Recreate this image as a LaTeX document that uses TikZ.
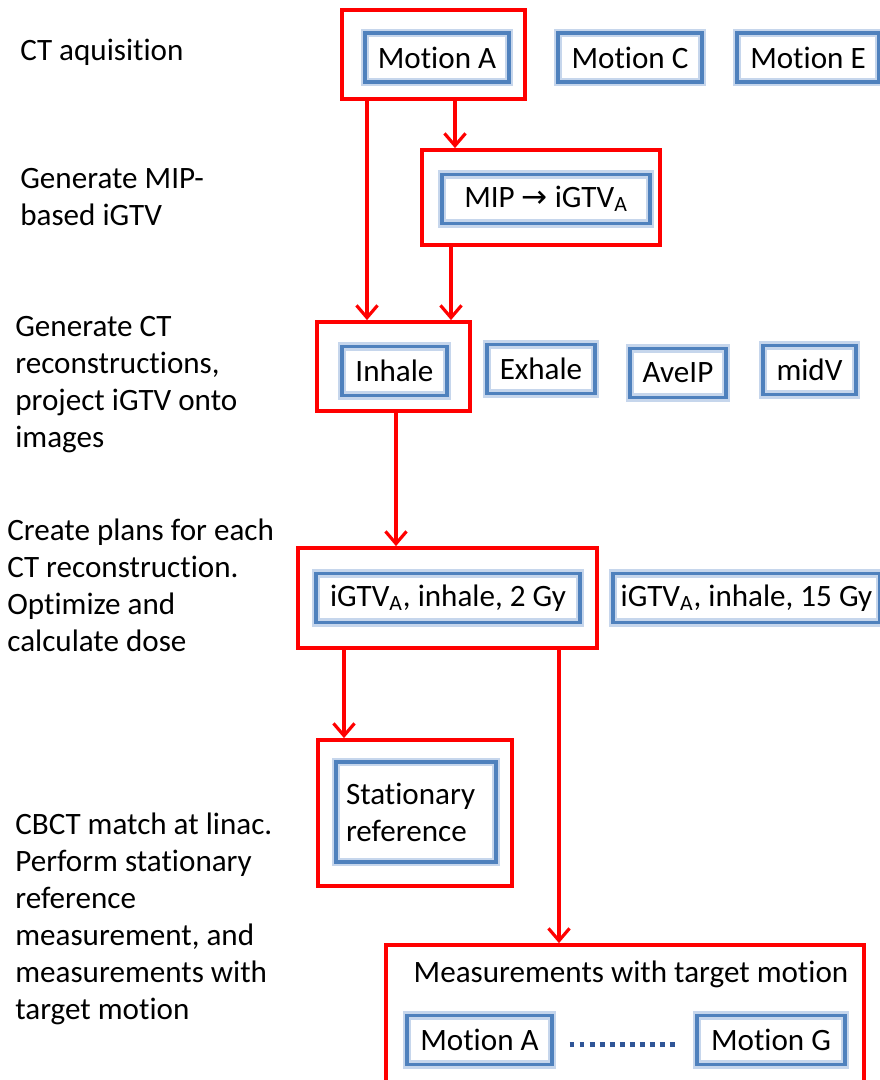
\documentclass[tikz,border=0pt]{standalone}
\usepackage{fontspec}
\setmainfont{Carlito}[Ligatures=NoCommon]
\newfontfamily\arrowfont{DejaVu Sans}
\usepackage{tikz}
\usetikzlibrary{arrows.meta}
\usetikzlibrary{calc}
\definecolor{boxblue}{RGB}{79,129,189}
\definecolor{glowblue}{RGB}{198,214,236}
\definecolor{dotblue}{RGB}{47,85,151}
\newcommand{\flowfont}{\fontsize{17.7}{21}\selectfont}
\tikzset{
	redbox/.style={draw=red, line width=2.2pt, inner sep=0pt},
	bluebox/.style={draw=boxblue, line width=2pt, preaction={draw=glowblue, line width=4.6pt}, minimum height=0.98cm, inner sep=0pt, font=\flowfont},
	flow/.style={draw=red, line width=1.8pt, -{Straight Barb[length=7pt,width=12pt]}},
	steplabel/.style={anchor=base west, align=left, inner sep=0pt, font=\flowfont},
	dotline/.style={draw=dotblue, line width=2.8pt, dash pattern=on 2.8pt off 2.9pt}
}

\begin{document}
\begin{tikzpicture}[x=0.02cm, y=-0.02cm]
		\clip (0,0) rectangle (880,1080);
		\node[steplabel] (lbla) at (20,60) {CT aquisition};
		\node[steplabel] (lblb) at (20,225) {Generate MIP-\\based iGTV};
		\node[steplabel] (lblc) at (15,447) {Generate CT\\reconstructions,\\project iGTV onto\\images};
		\node[steplabel] (lbld) at (7,651) {Create plans for each\\CT reconstruction.\\Optimize and\\calculate dose};
		\node[steplabel] (lble) at (15,1019) {CBCT match at linac.\\Perform stationary\\reference\\measurement, and\\measurements with\\target motion};

		\node[redbox, minimum width=3.66cm, minimum height=1.78cm] (ctred) at (433.5,54.5) {};
		\node[bluebox, minimum width=2.88cm] (motA) at (437,57.5) {Motion A};
		\node[bluebox, minimum width=2.88cm] (motC) at (630,57.5) {Motion C};
		\node[bluebox, minimum width=2.84cm] (motE) at (808,57.5) {Motion E};

		\node[redbox, minimum width=4.76cm, minimum height=1.90cm] (mipred) at (541,197.5) {};
		\node[bluebox, minimum width=4.16cm] (mip) at (546,199) {MIP {\arrowfont →} iGTV\textsubscript{A}};

		\node[redbox, minimum width=3.06cm, minimum height=1.78cm] (inred) at (393.5,366.5) {};
		\node[bluebox, minimum width=2.10cm] (inhale) at (394.5,371) {Inhale};
		\node[bluebox, minimum width=2.16cm] (exhale) at (541,369) {Exhale};
		\node[bluebox, minimum width=1.92cm] (aveip) at (678,373) {AveIP};
		\node[bluebox, minimum width=1.86cm] (midv) at (809.5,370) {midV};

		\node[redbox, minimum width=5.98cm, minimum height=2.0cm] (planred) at (447.5,598) {};
		\node[bluebox, minimum width=5.28cm] (plantwo) at (448,598) {iGTV\textsubscript{A}, inhale, 2 Gy};
		\node[bluebox, minimum width=5.34cm] (planfif) at (746.5,598) {iGTV\textsubscript{A}, inhale, 15 Gy};

		\node[redbox, minimum width=3.88cm, minimum height=2.92cm] (statred) at (415,813) {};
		\node[bluebox, minimum width=3.20cm, minimum height=2.0cm, align=left, text width=2.8cm] (stat) at (416,812) {Stationary\\reference};

		\node[redbox, minimum width=9.56cm, minimum height=2.9cm] (measred) at (625,1017.5) {};
		\node[anchor=base, inner sep=0pt, font=\flowfont] (meastitle) at (631,982) {Measurements with target motion};
		\node[bluebox, minimum width=2.90cm] (motAm) at (479.5,1040) {Motion A};
		\node[bluebox, minimum width=2.96cm] (motG) at (771,1040) {Motion G};
		\draw[dotline, shorten <=9pt, shorten >=11pt] ([yshift=-2.8pt]motAm.east) -- ([yshift=-2.8pt]motG.west);

		\coordinate (xa) at (367,0);
		\coordinate (xb) at (455,0);
		\coordinate (xc) at (451,0);
		\coordinate (xd) at (396,0);
		\coordinate (xe) at (344,0);
		\coordinate (xf) at (559,0);
		\draw[flow] (ctred.south -| xa) -- (inred.north -| xa);
		\draw[flow] (ctred.south -| xb) -- (mipred.north -| xb);
		\draw[flow] (mipred.south -| xc) -- (inred.north -| xc);
		\draw[flow] (inred.south -| xd) -- (planred.north -| xd);
		\draw[flow] (planred.south -| xe) -- (statred.north -| xe);
		\draw[flow] (planred.south -| xf) -- (measred.north -| xf);
	\end{tikzpicture}
\end{document}
